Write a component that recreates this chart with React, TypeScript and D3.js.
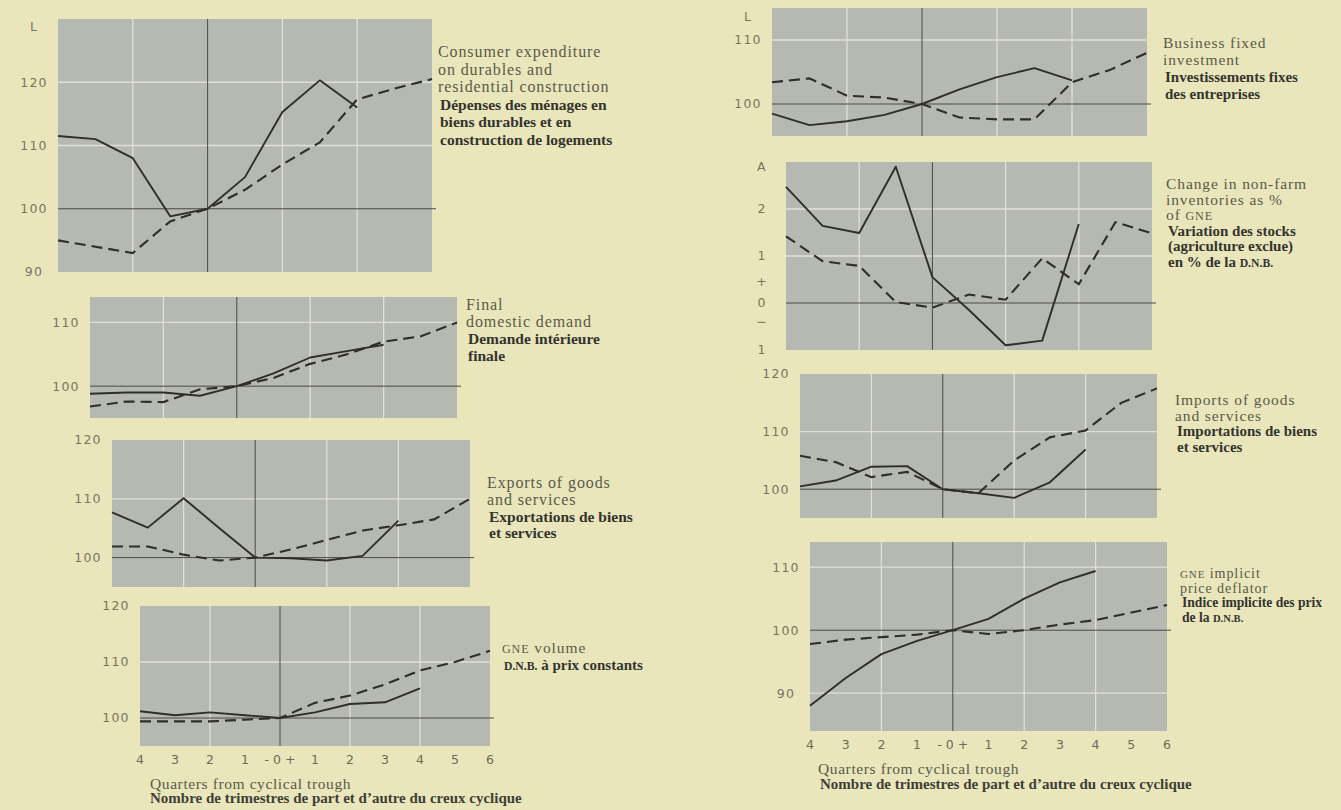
import React from "react";
import * as d3 from "d3";

// quarters around the cyclical trough
const quarters = [-4, -3, -2, -1, 0, 1, 2, 3, 4, 5, 6];
const quarterLabels = ["4", "3", "2", "1", "- 0 +", "1", "2", "3", "4", "5", "6"];
const quarterGrid = [-2, 2, 4];

// solid = current recovery, dashed = earlier cycles (index, trough = 100)
const durablesSolid = [111.5, 111, 108, 98.8, 100, 105, 115.3, 120.3, 116, null, null];
const durablesDashed = [95, 94, 93, 98, 100, 103, 107, 110.5, 117.3, 119, 120.5];

const domesticSolid = [98.8, 99, 99, 98.5, 100, 102, 104.5, 105.5, 106.5, null, null];
const domesticDashed = [96.8, 97.6, 97.5, 99.5, 100, 101.3, 103.5, 105, 107, 107.8, 110];

const exportsSolid = [107.7, 105.1, 110.1, 105, 100, 99.9, 99.5, 100.3, 106.3, null, null];
const exportsDashed = [101.9, 101.9, 100.5, 99.5, 100, 101.4, 103, 104.6, 105.5, 106.5, 110];

const gneSolid = [101.2, 100.5, 101, 100.5, 100, 101, 102.5, 102.8, 105.3, null, null];
const gneDashed = [99.4, 99.4, 99.4, 99.7, 100, 102.7, 104, 106, 108.5, 110, 112];

const businessSolid = [98.5, 96.7, 97.3, 98.3, 100, 102.3, 104.2, 105.6, 103.7, null, null];
const businessDashed = [103.4, 104, 101.3, 101, 100, 97.9, 97.6, 97.6, 103.4, 105.3, 108];

const inventoriesSolid = [2.47, 1.64, 1.49, 2.9, 0.55, -0.15, -0.9, -0.8, 1.68, null, null];
const inventoriesDashed = [1.42, 0.89, 0.79, 0.02, -0.1, 0.18, 0.07, 0.95, 0.4, 1.72, 1.48];

const importsSolid = [100.5, 101.5, 103.9, 104, 100, 99.3, 98.5, 101.2, 106.9, null, null];
const importsDashed = [105.8, 104.7, 102.1, 103, 100, 99.3, 105, 109, 110.2, 115, 117.5];

const deflatorSolid = [88, 92.4, 96.2, 98.3, 100, 101.8, 105, 107.6, 109.4, null, null];
const deflatorDashed = [97.8, 98.5, 98.9, 99.3, 100, 99.4, 100, 100.9, 101.6, 102.8, 104];

// y tick labels [label, value]
const durablesTicks = [["L", 128.8], ["120", 120], ["110", 110], ["100", 100], ["90", 90]];
const domesticTicks = [["110", 110], ["100", 100]];
const exportsTicks = [["120", 120], ["110", 110], ["100", 100]];
const gneTicks = [["120", 120], ["110", 110], ["100", 100]];
const businessTicks = [["L", 113.6], ["110", 110], ["100", 100]];
const inventoriesTicks = [["A", 2.9], ["2", 2], ["1", 1], ["+", 0.45], ["0", 0], ["\u2212", -0.4], ["1", -1]];
const importsTicks = [["120", 120], ["110", 110], ["100", 100]];
const deflatorTicks = [["110", 110], ["100", 100], ["90", 90]];

// captions: [text, bold]
const durablesTitle = [
  ["Consumer expenditure", false],
  ["on durables and", false],
  ["residential construction", false],
  ["Dépenses des ménages en", true],
  ["biens durables et en", true],
  ["construction de logements", true],
];
const domesticTitle = [
  ["Final", false],
  ["domestic demand", false],
  ["Demande intérieure", true],
  ["finale", true],
];
const exportsTitle = [
  ["Exports of goods", false],
  ["and services", false],
  ["Exportations de biens", true],
  ["et services", true],
];
const gneTitle = [
  ["GNE volume", false],
  ["D.N.B.  à prix constants", true],
];
const businessTitle = [
  ["Business fixed", false],
  ["investment", false],
  ["Investissements fixes", true],
  ["des entreprises", true],
];
const inventoriesTitle = [
  ["Change in non-farm", false],
  ["inventories as %", false],
  ["of GNE", false],
  ["Variation des stocks", true],
  ["(agriculture exclue)", true],
  ["en % de la D.N.B.", true],
];
const importsTitle = [
  ["Imports of goods", false],
  ["and services", false],
  ["Importations de biens", true],
  ["et services", true],
];
const deflatorTitle = [
  ["GNE implicit", false],
  ["price deflator", false],
  ["Indice implicite des prix", true],
  ["de la D.N.B.", true],
];

const axisTitle = "Quarters from cyclical trough";
const axisTitleFr = "Nombre de trimestres de part et d\u2019autre du creux cyclique";

const panels = [
  { id: "dur", box: [58, 19, 432, 272], domain: [90, 130], grid: [110, 120], base: 100, solid: durablesSolid, dashed: durablesDashed, ticks: durablesTicks, title: durablesTitle, tx: 438, ty: 57, step: 17.5, fs: 15.5 },
  { id: "dom", box: [90, 297, 457, 418], domain: [95, 114], grid: [110], base: 100, solid: domesticSolid, dashed: domesticDashed, ticks: domesticTicks, title: domesticTitle, tx: 466, ty: 310, step: 17, fs: 15.5 },
  { id: "exp", box: [112, 440, 470, 587], domain: [95, 120], grid: [110], base: 100, solid: exportsSolid, dashed: exportsDashed, ticks: exportsTicks, title: exportsTitle, tx: 487, ty: 488, step: 16.8, fs: 15.5 },
  { id: "gne", box: [140, 606, 490, 746], domain: [95, 120], grid: [110], base: 100, solid: gneSolid, dashed: gneDashed, ticks: gneTicks, title: gneTitle, tx: 502, ty: 653, step: 16.5, fs: 15, xAxis: true },
  { id: "bus", box: [772, 8, 1147, 136], domain: [95, 115], grid: [110], base: 100, solid: businessSolid, dashed: businessDashed, ticks: businessTicks, title: businessTitle, tx: 1163, ty: 48, step: 17, fs: 15 },
  { id: "inv", box: [786, 162, 1152, 350], domain: [-1, 3], grid: [1, 2], base: 0, solid: inventoriesSolid, dashed: inventoriesDashed, ticks: inventoriesTicks, title: inventoriesTitle, tx: 1166, ty: 189, step: 15.5, fs: 15 },
  { id: "imp", box: [800, 374, 1157, 518], domain: [95, 120], grid: [110], base: 100, solid: importsSolid, dashed: importsDashed, ticks: importsTicks, title: importsTitle, tx: 1175, ty: 405, step: 15.5, fs: 15 },
  { id: "def", box: [810, 542, 1167, 731], domain: [84, 114], grid: [90, 110], base: 100, solid: deflatorSolid, dashed: deflatorDashed, ticks: deflatorTicks, title: deflatorTitle, tx: 1180, ty: 578, step: 14.5, fs: 13.6, xAxis: true },
];

const SERIF = "'Liberation Serif', 'DejaVu Serif', serif";
const SANS = "'DejaVu Sans', 'Liberation Sans', sans-serif";

// render GNE / D.N.B. in small caps
function Caption({ text }: { text: string }) {
  const parts = text.split(/(GNE|D\.N\.B\.)/);
  return (
    <>
      {parts.map((p, i) =>
        p === "GNE" || p === "D.N.B." ? (
          <tspan key={i} fontSize="0.78em">{p}</tspan>
        ) : (
          <tspan key={i}>{p}</tspan>
        )
      )}
    </>
  );
}

function Panel({ p }: { p: any }) {
  const [x0, y0, x1, y1] = p.box;
  const x = d3.scaleLinear().domain([quarters[0], quarters[quarters.length - 1]]).range([x0, x1]);
  const y = d3.scaleLinear().domain(p.domain).range([y1, y0]);
  const line = d3
    .line<number | null>()
    .defined((d) => d != null)
    .x((_, i) => x(quarters[i]))
    .y((d) => y(d as number));

  return (
    <g>
      <rect x={x0} y={y0} width={x1 - x0} height={y1 - y0} fill="#b5b9b2" />
      {p.grid.map((g: number) => (
        <line key={"h" + g} x1={x0} x2={x1} y1={y(g)} y2={y(g)} stroke="#e0e1d6" strokeWidth={1.3} />
      ))}
      {quarterGrid.map((q) => (
        <line key={"v" + q} x1={x(q)} x2={x(q)} y1={y0} y2={y1} stroke="#e0e1d6" strokeWidth={1.3} />
      ))}
      <line x1={x0} x2={x1 + 4} y1={y(p.base)} y2={y(p.base)} stroke="#4a4a44" strokeWidth={1} />
      <line x1={x(0)} x2={x(0)} y1={y0} y2={y1} stroke="#4a4a44" strokeWidth={1} />
      <path d={line(p.dashed) || ""} fill="none" stroke="#2e2e2c" strokeWidth={2.1} strokeDasharray="11,6" />
      <path d={line(p.solid) || ""} fill="none" stroke="#2e2e2c" strokeWidth={1.9} strokeLinejoin="round" />
      {p.ticks.map(([t, v]: [string, number], i: number) => (
        <text key={"t" + i} x={x0 - 24} y={y(v)} dy="0.35em" textAnchor="middle" fontFamily={SANS} fontSize={12.5} fill="#78755e" letterSpacing={1.2}>
          {t}
        </text>
      ))}
      {p.xAxis &&
        quarters.map((q, i) => (
          <text key={"x" + q} x={x(q)} y={y1 + 18} textAnchor="middle" fontFamily={SANS} fontSize={12.5} fill="#6e6b56">
            {quarterLabels[i]}
          </text>
        ))}
      {p.title.map(([t, bold]: [string, boolean], i: number) => (
        <text
          key={"c" + i}
          x={p.tx + (bold ? 2 : 0)}
          y={p.ty + i * p.step}
          fontFamily={SERIF}
          fontSize={bold ? p.fs : p.fs + 0.5}
          fontWeight={bold ? 700 : 400}
          letterSpacing={bold ? 0 : 0.9}
          fill={bold ? "#34342e" : "#5b5a48"}
        >
          <Caption text={t} />
        </text>
      ))}
    </g>
  );
}

export default function App() {
  return (
    <div style={{ position: "absolute", left: 0, top: 0 }}>
      <svg width={1341} height={810} style={{ display: "block" }}>
        <rect width={1341} height={810} fill="#e9e6bc" />
        {panels.map((p) => (
          <Panel key={p.id} p={p} />
        ))}
        <text x={150} y={789} fontFamily={SERIF} fontSize={15.5} letterSpacing={0.6} fill="#5b5a48">{axisTitle}</text>
        <text x={150} y={803} fontFamily={SERIF} fontSize={15} fontWeight={700} fill="#3e3e36">{axisTitleFr}</text>
        <text x={818} y={774} fontFamily={SERIF} fontSize={15.5} letterSpacing={0.6} fill="#5b5a48">{axisTitle}</text>
        <text x={820} y={789} fontFamily={SERIF} fontSize={15} fontWeight={700} fill="#3e3e36">{axisTitleFr}</text>
      </svg>
    </div>
  );
}
